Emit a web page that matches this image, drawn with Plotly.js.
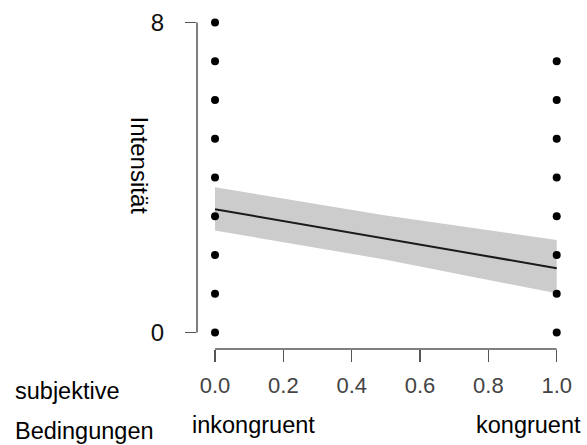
<!DOCTYPE html>
<html>
<head>
<meta charset="utf-8">
<script src="https://cdn.plot.ly/plotly-3.0.1.min.js"></script>
<style>html,body{margin:0;padding:0;background:#fff;}#chart{width:587px;height:445px;}</style>
</head>
<body>
<div id="chart"></div>
<script>
// Data
const pointsX = [0,0,0,0,0,0,0,0,0, 1,1,1,1,1,1,1,1];
const pointsY = [0,1,2,3,4,5,6,7,8, 0,1,2,3,4,5,6,7];
const fitX = [0, 1];
const fitY = [3.18, 1.66];
const bandX = [0, 0.5, 1];
const bandUpper = [3.75, 3.02, 2.39];
const bandLower = [2.63, 1.88, 1.01];
const xTicks = [0, 0.2, 0.4, 0.6, 0.8, 1.0];
const xTickText = ['0.0','0.2','0.4','0.6','0.8','1.0'];
const yTicks = [0, 8];
const yTickText = ['0','8'];

const font = 'Liberation Sans, Arial, sans-serif';

const traces = [
  {
    x: bandX.concat(bandX.slice().reverse()),
    y: bandUpper.concat(bandLower.slice().reverse()),
    type: 'scatter', mode: 'lines', fill: 'toself',
    fillcolor: '#cccccc', line: {width: 0}, hoverinfo: 'skip', showlegend: false
  },
  {
    x: fitX, y: fitY, type: 'scatter', mode: 'lines',
    line: {color: '#1a1a1a', width: 2}, showlegend: false
  },
  {
    x: pointsX, y: pointsY, type: 'scatter', mode: 'markers',
    marker: {color: '#000000', size: 8}, showlegend: false
  }
];

const layout = {
  width: 587, height: 445,
  margin: {l: 197, r: 17, t: 10, b: 96, pad: 0},
  paper_bgcolor: '#ffffff', plot_bgcolor: '#ffffff',
  showlegend: false,
  font: {family: font, color: '#000'},
  xaxis: {
    range: [-0.0527, 1.0389], showgrid: false, zeroline: false, showline: false,
    tickmode: 'array', tickvals: xTicks, ticktext: xTickText,
    ticks: 'outside', ticklen: 12, tickwidth: 1.5, tickcolor: '#555555',
    tickfont: {family: font, size: 22, color: '#444444'},
    ticklabelstandoff: 5
  },
  yaxis: {
    range: [-0.426, 8.323], showgrid: false, zeroline: false, showline: false,
    tickmode: 'array', tickvals: yTicks, ticktext: yTickText,
    ticks: 'outside', ticklen: 11, tickwidth: 1.5, tickcolor: '#555555',
    tickfont: {family: font, size: 24, color: '#111111'},
    ticklabelstandoff: 16
  },
  shapes: [
    {type: 'line', xref: 'paper', yref: 'y', x0: 0, x1: 0, y0: yTicks[0], y1: yTicks[1],
     line: {color: '#555555', width: 1.5}},
    {type: 'line', xref: 'x', yref: 'paper', x0: xTicks[0], x1: xTicks[xTicks.length-1], y0: 0, y1: 0,
     line: {color: '#555555', width: 1.5}}
  ],
  annotations: [
    {text: 'Intensität', textangle: 90, xref: 'paper', yref: 'paper',
     x: (139.5-197)/373, y: (349-165)/339, xanchor: 'center', yanchor: 'middle',
     showarrow: false, font: {family: font, size: 24, color: '#000'}},
    {text: 'subjektive', xref: 'paper', yref: 'paper',
     x: (13-197)/373, y: (349-391)/339, xanchor: 'left', yanchor: 'middle',
     showarrow: false, font: {family: font, size: 23.5, color: '#000'}},
    {text: 'Bedingungen', xref: 'paper', yref: 'paper',
     x: (13-197)/373, y: (349-431)/339, xanchor: 'left', yanchor: 'middle',
     showarrow: false, font: {family: font, size: 23.5, color: '#000'}},
    {text: 'inkongruent', xref: 'paper', yref: 'paper',
     x: (190-197)/373, y: (349-425)/339, xanchor: 'left', yanchor: 'middle',
     showarrow: false, font: {family: font, size: 23.5, color: '#000'}},
    {text: 'kongruent', xref: 'paper', yref: 'paper',
     x: (583-197)/373, y: (349-425)/339, xanchor: 'right', yanchor: 'middle',
     showarrow: false, font: {family: font, size: 23.5, color: '#000'}}
  ]
};

Plotly.newPlot('chart', traces, layout, {displayModeBar: false, staticPlot: true});
</script>
</body>
</html>
